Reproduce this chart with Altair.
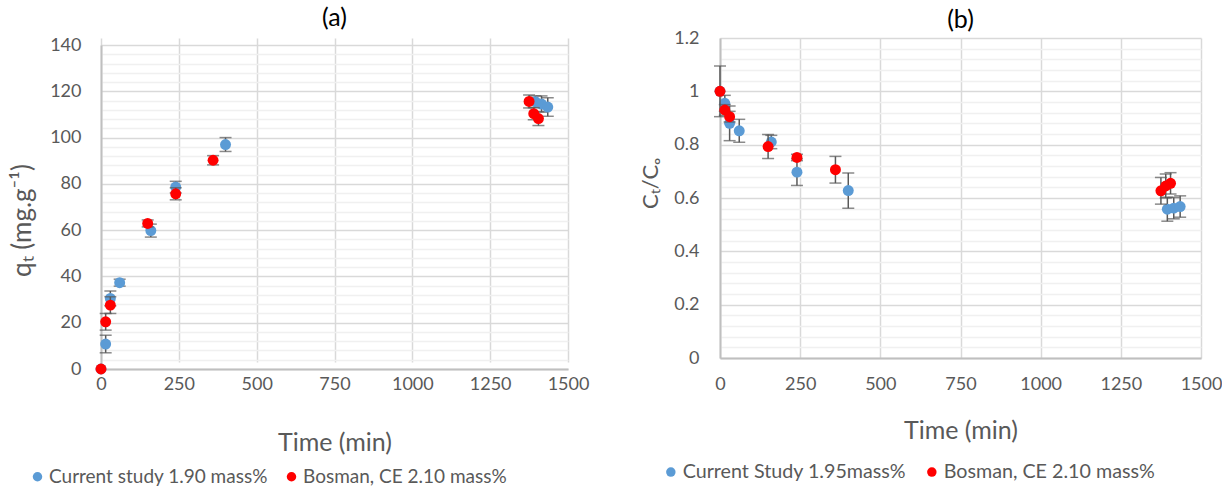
import altair as alt
import pandas as pd

# ---- panel (a): adsorbed amount q_t versus time ----
A_CUR_T = [0, 15, 30, 60, 160, 240, 400, 1395, 1415, 1435]
A_CUR_V = [0, 10.8, 30.5, 37.3, 59.8, 78.6, 97.0, 115.5, 114.5, 113.2]
A_CUR_E = [0, 3.8, 3.2, 1.5, 2.8, 2.5, 3.0, 2.5, 3.5, 4.0]
A_BOS_T = [0, 15, 30, 150, 240, 360, 1375, 1390, 1405]
A_BOS_V = [0, 20.4, 27.6, 62.9, 75.7, 90.2, 115.6, 110.3, 108.2]
A_BOS_E = [0, 3.6, 3.6, 1.5, 2.6, 2.0, 2.8, 2.6, 3.0]
A_LABELS = ["Current study 1.90 mass%", "Bosman, CE 2.10 mass%"]
A_Y_MAJOR = [0, 20, 40, 60, 80, 100, 120, 140]
A_Y_MINOR = [4, 8, 12, 16, 24, 28, 32, 36, 44, 48, 52, 56, 64, 68, 72, 76,
             84, 88, 92, 96, 104, 108, 112, 116, 124, 128, 132, 136]

# ---- panel (b): relative concentration C_t/C_o versus time ----
B_CUR_T = [0, 15, 30, 60, 160, 240, 400, 1395, 1415, 1435]
B_CUR_V = [1.0, 0.955, 0.88, 0.852, 0.81, 0.697, 0.628, 0.558, 0.562, 0.568]
B_CUR_E = [0.0, 0.03, 0.065, 0.043, 0.025, 0.05, 0.066, 0.045, 0.04, 0.04]
B_BOS_T = [0, 15, 30, 150, 240, 360, 1375, 1390, 1405]
B_BOS_V = [1.0, 0.93, 0.905, 0.793, 0.752, 0.706, 0.627, 0.645, 0.655]
B_BOS_E = [0.095, 0.02, 0.02, 0.045, 0.012, 0.05, 0.05, 0.045, 0.04]
B_LABELS = ["Current Study 1.95mass%", "Bosman, CE 2.10 mass%"]
B_Y_MAJOR = [0, 0.2, 0.4, 0.6, 0.8, 1.0, 1.2]
B_Y_MINOR = [0.04, 0.08, 0.12, 0.16, 0.24, 0.28, 0.32, 0.36, 0.44, 0.48,
             0.52, 0.56, 0.64, 0.68, 0.72, 0.76, 0.84, 0.88, 0.92, 0.96,
             1.04, 1.08, 1.12, 1.16]

X_TICKS = [0, 250, 500, 750, 1000, 1250, 1500]

BLUE = "#5B9BD5"
RED = "#FF0000"
ERR = "#595959"
TXT = "#595959"
FONT = "Lato"


def frame(labels, cur, bos):
    rows = []
    for lab, (ts, vs, es) in zip(labels, (cur, bos)):
        for t, v, e in zip(ts, vs, es):
            rows.append({"series": lab, "t": t, "v": v, "err": e,
                         "lo": v - e, "hi": v + e})
    return pd.DataFrame(rows)


def panel(df, labels, y_dom, y_range, y_major, y_minor, y_fmt, y_title, name,
          title_offset, w, h, x_lab_pad, x_title_pad, y_lab_pad,
          y_title_pad, y_title_y, y_title_size, leg_x, leg_y, col_pad,
          leg_font):
    xs = alt.Scale(domain=[0, 1500], nice=False, zero=False)
    ys = alt.Scale(domain=y_dom, range=y_range, nice=False, zero=False)
    x_axis = alt.Axis(values=X_TICKS, format="d", title="Time (min)", grid=True,
                      gridColor="#D9D9D9", gridWidth=1.5, domainColor="#BFBFBF",
                      domainWidth=2, ticks=False, labelFlush=False,
                      labelPadding=x_lab_pad, titlePadding=x_title_pad)
    y_major_axis = alt.Axis(values=y_major, format=y_fmt, title=y_title,
                            orient="left", grid=True, gridColor="#D9D9D9",
                            gridWidth=1.5, domainColor="#BFBFBF", domainWidth=2,
                            ticks=False, labelFlush=False,
                            labelPadding=y_lab_pad, titlePadding=y_title_pad,
                            titleY=y_title_y, titleFontSize=y_title_size)
    y_minor_axis = alt.Axis(values=y_minor, orient="right", grid=True,
                            gridColor="#F0F0F0", gridWidth=1.5, labels=False,
                            ticks=False, domain=False, title=None)
    color = alt.Color(
        "series:N",
        scale=alt.Scale(domain=labels, range=[BLUE, RED]),
        legend=alt.Legend(orient="none", legendX=leg_x, legendY=leg_y,
                          direction="horizontal", title=None,
                          symbolType="circle", symbolSize=90,
                          symbolStrokeWidth=0, labelFont=FONT,
                          labelFontSize=leg_font, labelColor=TXT, labelOffset=2,
                          labelLimit=600, columnPadding=col_pad),
    )
    x_enc = alt.X("t:Q", scale=xs, axis=x_axis)
    base = alt.Chart(df)
    layers = []
    for i, lab in enumerate(labels):
        s = base.transform_filter(alt.datum.series == lab)
        e = s.transform_filter(alt.datum.err > 0)
        bars = e.mark_rule(color=ERR, strokeWidth=1.5).encode(
            x=x_enc,
            y=alt.Y("lo:Q", scale=ys, axis=y_minor_axis if i == 0 else None),
            y2="hi:Q",
        )
        caps = e.transform_fold(["lo", "hi"], as_=["end", "yv"]).mark_tick(
            color=ERR, orient="horizontal", size=12, thickness=1.5
        ).encode(
            x=x_enc,
            y=alt.Y("yv:Q", scale=ys, axis=None),
        )
        pts = s.mark_circle(size=120, opacity=1).encode(
            x=x_enc,
            y=alt.Y("v:Q", scale=ys, axis=y_major_axis if i == 0 else None),
            color=color,
        )
        layers += [bars, caps, pts]
    return alt.layer(*layers).resolve_axis(y="independent").properties(
        width=w, height=h,
        title=alt.TitleParams(name, font=FONT, fontSize=25, fontWeight="normal",
                              color="black", offset=title_offset,
                              anchor="middle"),
    )


df_a = frame(A_LABELS, (A_CUR_T, A_CUR_V, A_CUR_E), (A_BOS_T, A_BOS_V, A_BOS_E))
df_b = frame(B_LABELS, (B_CUR_T, B_CUR_V, B_CUR_E), (B_BOS_T, B_BOS_V, B_BOS_E))

# panel (a) sits a little lower than panel (b): its value range starts 7 px
# below the shared top edge of the two plot areas
chart_a = panel(df_a, A_LABELS, [0, 140], [331, 7], A_Y_MAJOR, A_Y_MINOR, "d",
                "qₜ (mg.g⁻¹)", "(a)", 5, 467, 331, 6, 37, 20, 14, 182, 26,
                -73, 429, 14, 19)
chart_b = panel(df_b, B_LABELS, [0, 1.2], [320, 0], B_Y_MAJOR, B_Y_MINOR, "~g",
                "Cₜ/Cₒ", "(b)", -4, 481, 320, 17, 25, 21, 11, 145, 22,
                -59, 424, 15, 19.7)

chart = alt.hconcat(chart_a, chart_b, spacing=50).resolve_scale(
    color="independent"
).resolve_legend(color="independent").properties(
    padding={"left": 9, "top": 6, "right": 0, "bottom": 0}
).configure_view(stroke=None).configure_axis(
    labelFont=FONT, labelFontSize=18, labelColor=TXT,
    titleFont=FONT, titleFontSize=25, titleFontWeight="normal", titleColor=TXT,
)

chart.save("out.html", embed_options={"renderer": "svg", "actions": False})
